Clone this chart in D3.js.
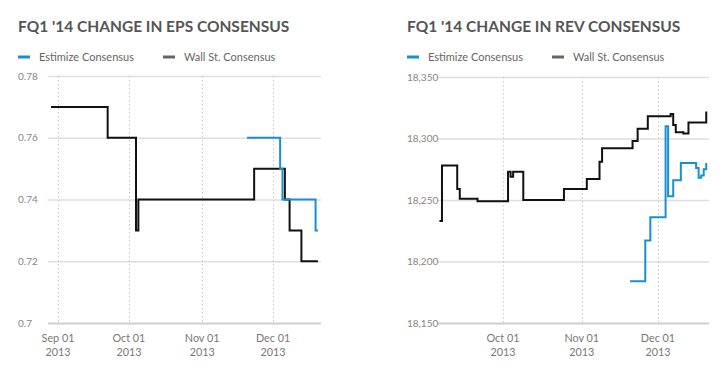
<!DOCTYPE html>
<html>
<head>
<meta charset="utf-8">
<script src="https://cdn.jsdelivr.net/npm/d3@7"></script>
<style>
  body { margin: 0; background: #fff; }
  svg { display: block; font-family: Lato, "Open Sans", sans-serif; }
  .title { font-weight: 700; fill: #555; }
  .legend text { fill: #666; font-size: 11px; }
  .ytick { fill: #8a8482; font-size: 10px; }
  .xtick { fill: #777; font-size: 10.8px; }
</style>
</head>
<body>
<div id="chart"></div>
<script>
// ---- data ----
var epsWallDates   = ["2013-08-29","2013-09-22","2013-10-04","2013-10-05","2013-11-23","2013-12-06","2013-12-08","2013-12-13","2013-12-20"];
var epsWallValues  = [0.77, 0.76, 0.73, 0.74, 0.75, 0.74, 0.73, 0.72, 0.72];
var epsEstDates    = ["2013-11-20","2013-12-04","2013-12-05","2013-12-19","2013-12-20"];
var epsEstValues   = [0.76, 0.75, 0.74, 0.73, 0.73];
var epsTicks       = [0.7, 0.72, 0.74, 0.76, 0.78];

var revWallDates   = ["2013-09-06","2013-09-07","2013-09-13","2013-09-14","2013-09-21","2013-10-03","2013-10-04","2013-10-05","2013-10-09",
                      "2013-10-25","2013-11-03","2013-11-08","2013-11-09","2013-11-21","2013-11-23","2013-11-27","2013-12-06","2013-12-07",
                      "2013-12-08","2013-12-11","2013-12-13","2013-12-20"];
var revWallValues  = [18233, 18278, 18259, 18251, 18249, 18273, 18269, 18273, 18250,
                      18259, 18267, 18281, 18292, 18298, 18308, 18318, 18320, 18311,
                      18305, 18304, 18313, 18322];
var revEstDates    = ["2013-11-20","2013-11-26","2013-11-28","2013-12-04","2013-12-05","2013-12-07","2013-12-10","2013-12-16","2013-12-17",
                      "2013-12-18","2013-12-19","2013-12-20"];
var revEstValues   = [18184, 18217, 18236, 18310, 18253, 18266, 18280, 18276, 18268, 18270, 18275, 18280];
var revTicks       = [18150, 18200, 18250, 18300, 18350];

var legendNames = ["Estimize Consensus", "Wall St. Consensus"];
var BLUE = "#1a8fd0", BLACK = "#111", GREY = "#666";

var parse = d3.timeParse("%Y-%m-%d");
function zipSeries(dates, values) {
    return dates.map(function(d, i) { return {date: parse(d), value: values[i]}; });
}

var svg = d3.select("#chart").append("svg")
    .attr("width", 727)
    .attr("height", 375);

function DrawStepChart(opt) {
    var g = svg.append("g");

    var x = d3.scaleTime().domain(opt.xDomain).range([opt.left, opt.right]);
    var y = d3.scaleLinear().domain([opt.yTicks[0], opt.yTicks[opt.yTicks.length - 1]]).range([opt.bottom, opt.top]);

    // title
    g.append("text")
        .attr("class", "title")
        .attr("x", opt.titleX)
        .attr("y", 32)
        .style("font-size", "15.5px")
        .text(opt.title);

    // legend
    var lg = g.append("g").attr("class", "legend");
    [BLUE, GREY].forEach(function(c, i) {
        var lx = opt.titleX + i * 145;
        lg.append("line")
            .attr("x1", lx).attr("x2", lx + 12)
            .attr("y1", 57).attr("y2", 57)
            .attr("stroke", c).attr("stroke-width", 3);
        lg.append("text")
            .attr("x", lx + 21)
            .attr("y", 61)
            .text(legendNames[i]);
    });

    // horizontal grid
    g.append("g").selectAll("line")
        .data(opt.yTicks)
        .enter().append("line")
        .attr("x1", opt.left).attr("x2", opt.right)
        .attr("y1", function(d) { return y(d) + 0.5; })
        .attr("y2", function(d) { return y(d) + 0.5; })
        .attr("stroke", function(d, i) { return i == 0 ? "#cfcfcf" : "#dedede"; })
        .attr("stroke-width", function(d, i) { return i == 0 ? 2 : 1.3; });

    g.append("g").selectAll("text")
        .data(opt.yTicks)
        .enter().append("text")
        .attr("class", "ytick")
        .attr("x", opt.titleX)
        .attr("y", function(d) { return y(d) + 3.5; })
        .text(opt.yFormat);

    // vertical dotted grid + x labels
    var months = x.ticks(d3.timeMonth.every(1));
    g.append("g").selectAll("line")
        .data(months)
        .enter().append("line")
        .attr("x1", function(d) { return Math.round(x(d)) + 0.5; })
        .attr("x2", function(d) { return Math.round(x(d)) + 0.5; })
        .attr("y1", opt.top).attr("y2", opt.bottom)
        .attr("stroke", "#c8c8c8")
        .attr("stroke-dasharray", "1.5,2.5");

    var xl = g.append("g").selectAll("text")
        .data(months)
        .enter().append("text")
        .attr("class", "xtick")
        .attr("text-anchor", "middle")
        .attr("x", function(d) { return x(d); });
    xl.append("tspan").attr("x", function(d) { return x(d); }).attr("y", opt.bottom + 19).text(d3.timeFormat("%b %d"));
    xl.append("tspan").attr("x", function(d) { return x(d); }).attr("y", opt.bottom + 33).text(d3.timeFormat("%Y"));

    var line = d3.line()
        .curve(d3.curveStepAfter)
        .x(function(d) { return x(d.date); })
        .y(function(d) { return y(d.value); });

    g.append("path")
        .datum(opt.wall)
        .attr("fill", "none")
        .attr("stroke", BLACK)
        .attr("stroke-width", 2)
        .attr("d", line);

    g.append("path")
        .datum(opt.est)
        .attr("fill", "none")
        .attr("stroke", BLUE)
        .attr("stroke-width", 2)
        .attr("d", line);
}

DrawStepChart({
    title: "FQ1 '14 CHANGE IN EPS CONSENSUS",
    titleX: 18,
    left: 48, right: 321, top: 76, bottom: 323,
    xDomain: [new Date(2013, 7, 27, 18), new Date(2013, 11, 21, 7)],
    yTicks: epsTicks,
    yFormat: d3.format(""),
    wall: zipSeries(epsWallDates, epsWallValues),
    est: zipSeries(epsEstDates, epsEstValues)
});

DrawStepChart({
    title: "FQ1 '14 CHANGE IN REV CONSENSUS",
    titleX: 407,
    left: 437, right: 709, top: 77, bottom: 323,
    xDomain: [new Date(2013, 8, 5, 1), new Date(2013, 11, 21, 2)],
    yTicks: revTicks,
    yFormat: d3.format(","),
    wall: zipSeries(revWallDates, revWallValues),
    est: zipSeries(revEstDates, revEstValues)
});
</script>
</body>
</html>
